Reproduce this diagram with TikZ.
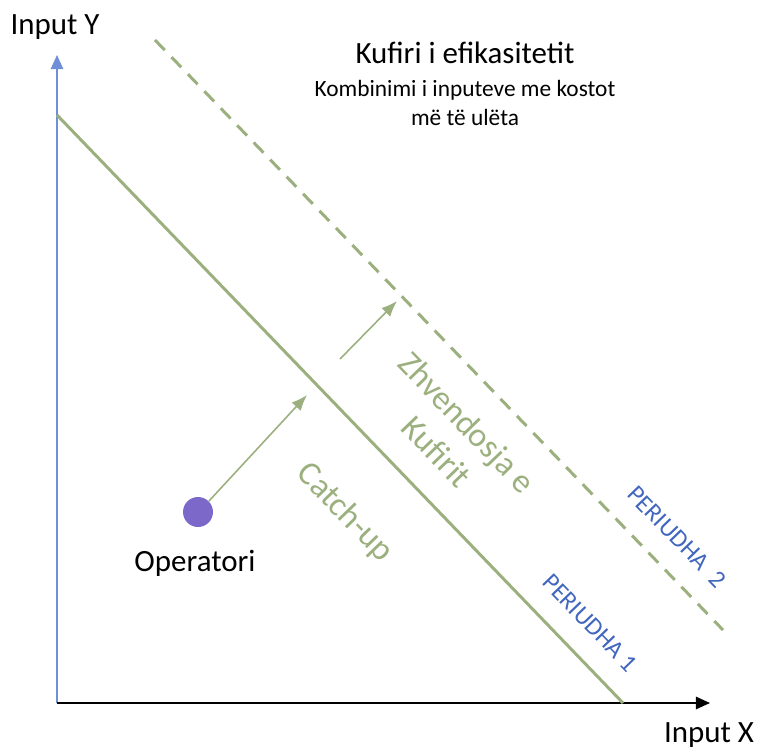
\documentclass[tikz,border=0pt]{standalone}
\usepackage{fontspec}
\setmainfont{Carlito}
\usetikzlibrary{arrows.meta}

\definecolor{frontgreen}{HTML}{9BB07E}
\definecolor{axisblue}{HTML}{6F8FD8}
\definecolor{periodblue}{HTML}{4066BE}
\definecolor{firmpurple}{HTML}{7B68C8}

\tikzset{
  frontier/.style={frontgreen, line width=1.7pt},
  shiftarrow/.style={frontgreen, line width=0.9pt, -{Latex[length=9pt,width=7pt]}},
  greentext/.style={frontgreen, rotate=-46, font=\fontsize{19.3}{24}\selectfont, align=center},
  periodtext/.style={periodblue, rotate=-46, font=\fontsize{14.2}{16}\selectfont}
}

\begin{document}
\begin{tikzpicture}[x=0.02cm, y=-0.02cm]
    \useasboundingbox (0,0) rectangle (758,747);

    % Boshtet
    \coordinate (origin) at (57,703);
    \coordinate (ytip) at (57,55);
    \coordinate (xtip) at (710,703);
    \draw[axisblue, line width=1.1pt, -{Triangle[length=8pt,width=7pt]}] (origin) -- (ytip);
    \draw[black, line width=1.1pt, -{Triangle[length=8pt,width=7pt]}] (origin) -- (xtip);
    \node[font=\fontsize{17.6}{20}\selectfont] (ylabel) at (55,27) {Input Y};
    \node[font=\fontsize{17.6}{20}\selectfont] (xlabel) at (709,735) {Input X};

    % Kufijte
    \coordinate (front1a) at (57,115);
    \coordinate (front1b) at (623,703);
    \coordinate (front2a) at (155,40);
    \coordinate (front2b) at (723,630);
    \draw[frontier] (front1a) -- (front1b);
    \draw[frontier, dash pattern=on 8pt off 5.5pt] (front2a) -- (front2b);

    % Operatori
    \node[circle, fill=firmpurple, minimum size=30*0.02cm, inner sep=0pt] (firm) at (198,512) {};
    \node[font=\fontsize{17.6}{20}\selectfont] (firmlabel) at (195,563) {Operatori};

    % Shigjetat
    \coordinate (catchend) at (307,395);
    \coordinate (shiftstart) at (340,359);
    \coordinate (shiftend) at (397,301);
    \draw[shiftarrow] (firm.45) -- (catchend);
    \draw[shiftarrow] (shiftstart) -- (shiftend);

    % Etiketat
    \node[greentext] (catchup) at (345,513) {Catch-up};
    \node[greentext] (shift) at (452,437) {Zhvendosja e\\Kufirit};
    \node[periodtext] (period1) at (590,623) {PERIUDHA 1};
    \node[periodtext] (period2) at (677,537) {PERIUDHA\ \ 2};

    % Titulli
    \node[font=\fontsize{17.6}{20}\selectfont] (title) at (465,53) {Kufiri i efikasitetit};
    \node[font=\fontsize{13.3}{17}\selectfont, align=center] (subtitle) at (465,103) {Kombinimi i inputeve me kostot\\më të ulëta};
\end{tikzpicture}
\end{document}
